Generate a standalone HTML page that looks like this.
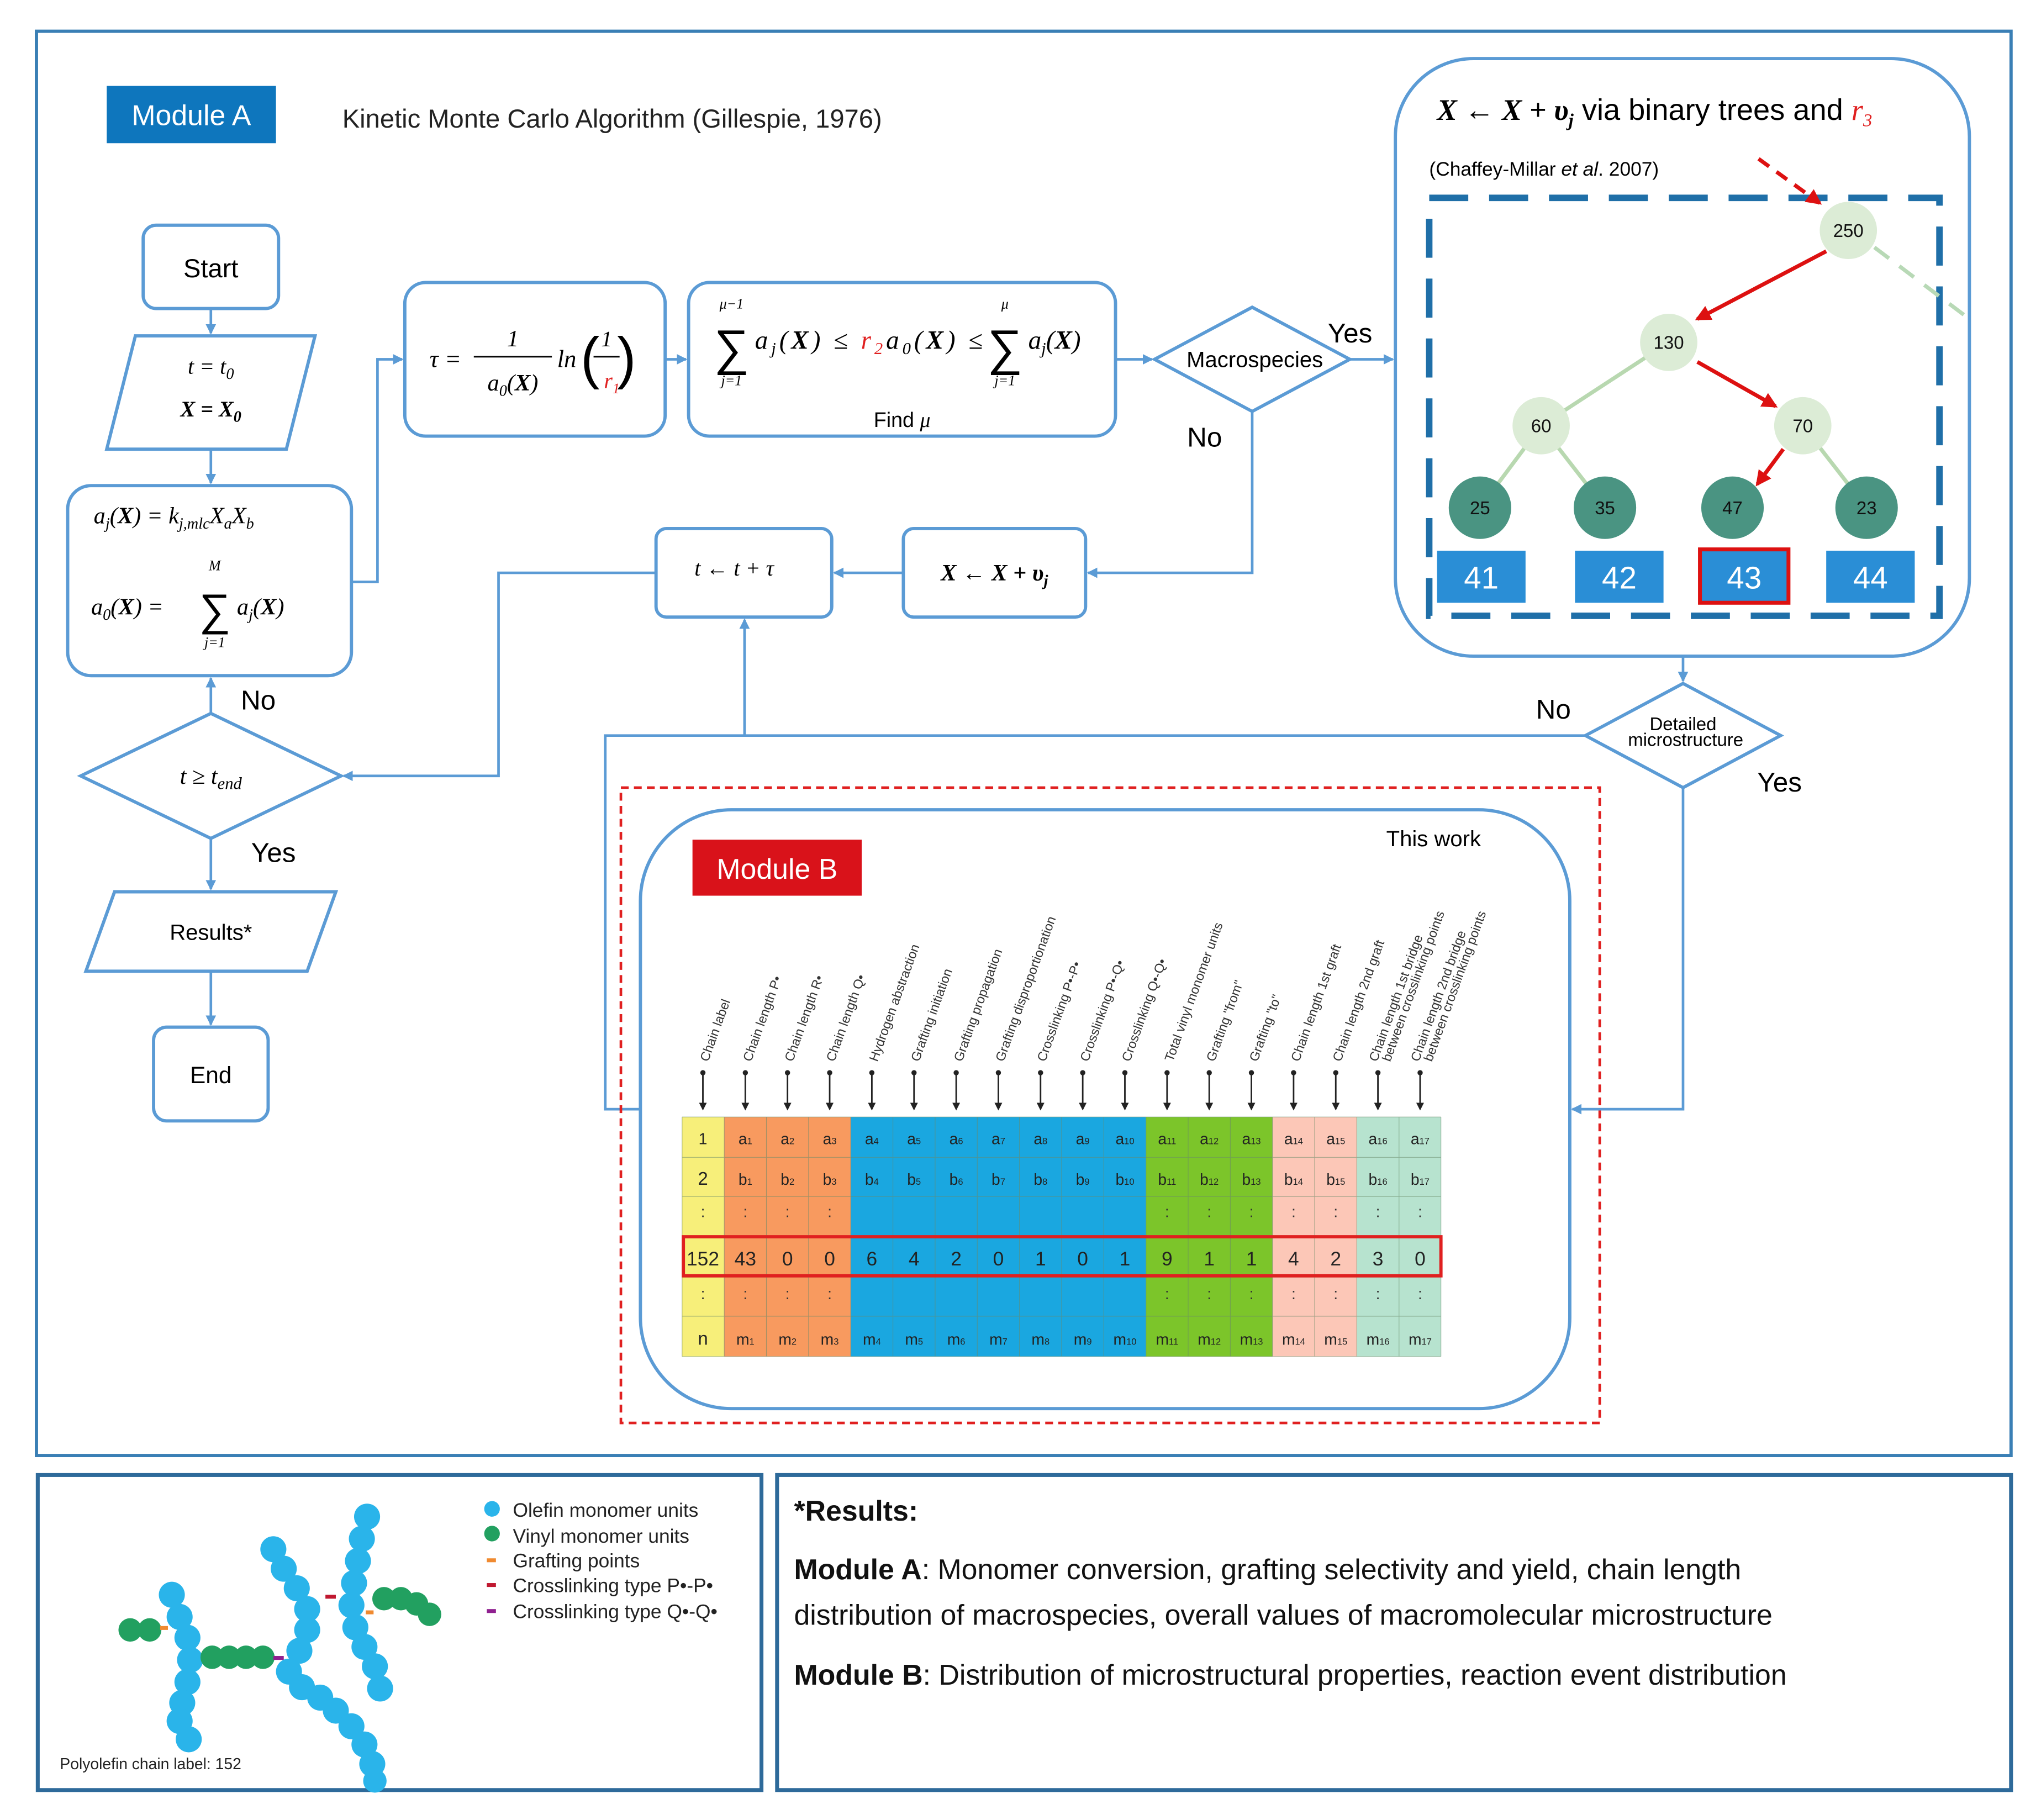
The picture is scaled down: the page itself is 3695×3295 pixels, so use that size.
<!DOCTYPE html>
<html><head><meta charset="utf-8"><style>
html,body{margin:0;padding:0;background:#fff}
svg{display:block}
text{font-family:"Liberation Sans",sans-serif}
.m{font-family:"Liberation Serif",serif;font-style:italic}
.b{fill:#fff;stroke:#5b9bd5;stroke-width:2.5}
.c{fill:none;stroke:#5b9bd5;stroke-width:2}
.t{font-size:12px;text-anchor:middle}
.h{font-size:10px;fill:#333}
</style></head><body>
<svg width="3695" height="3295" viewBox="0 0 1568 1398" preserveAspectRatio="none">
<defs>
<marker id="a" markerWidth="8" markerHeight="8" refX="7" refY="4" orient="auto" markerUnits="userSpaceOnUse"><path d="M0,0 L8,4 L0,8z" fill="#5b9bd5"/></marker>
<marker id="r" markerWidth="12" markerHeight="12" refX="10" refY="6" orient="auto" markerUnits="userSpaceOnUse"><path d="M0,0 L12,6 L0,12z" fill="#d11"/></marker>
<marker id="k" markerWidth="6" markerHeight="6" refX="5" refY="3" orient="auto" markerUnits="userSpaceOnUse"><path d="M0,0 L6,3 L0,6z" fill="#222"/></marker>
</defs>
<rect x="0" y="0" width="1568" height="1398" fill="#fff"/>
<!-- frames -->
<rect x="28" y="24" width="1517" height="1094" fill="none" stroke="#3a7fb5" stroke-width="2.5"/>
<rect x="29" y="1133" width="556" height="242" fill="none" stroke="#2e6a9a" stroke-width="3"/>
<rect x="597" y="1133" width="948" height="242" fill="none" stroke="#2e6a9a" stroke-width="3"/>

<rect x="82" y="66" width="130" height="44" fill="#0e76bd"/>
<text x="147" y="96" font-size="22" fill="#fff" text-anchor="middle">Module A</text>
<text x="263" y="98" font-size="20" fill="#222">Kinetic Monte Carlo Algorithm (Gillespie, 1976)</text>

<!-- left flow -->
<rect class="b" x="110" y="173" width="104" height="64" rx="10"/>
<text x="162" y="213" font-size="20" text-anchor="middle">Start</text>
<polygon class="b" points="104,258 242,258 220,345 82,345"/>
<text class="m" x="162" y="287" font-size="17" text-anchor="middle">t = t<tspan font-size="12" dy="4">0</tspan></text>
<text class="m" x="162" y="320" font-size="17" text-anchor="middle" font-weight="bold">X = X<tspan font-size="12" dy="4">0</tspan></text>
<rect class="b" x="52" y="373" width="218" height="146" rx="18"/>
<text class="m" x="72" y="402" font-size="18">a<tspan font-size="12" dy="4">j</tspan><tspan dy="-4">(</tspan><tspan font-weight="bold">X</tspan>) = k<tspan font-size="12" dy="4">j,mlc</tspan><tspan dy="-4">X</tspan><tspan font-size="12" dy="4">a</tspan><tspan dy="-4">X</tspan><tspan font-size="12" dy="4">b</tspan></text>
<text class="m" x="70" y="472" font-size="18">a<tspan font-size="12" dy="4">0</tspan><tspan dy="-4">(</tspan><tspan font-weight="bold">X</tspan>) =</text>
<text x="165" y="480" font-size="34" text-anchor="middle">∑</text>
<text class="m" x="165" y="438" font-size="11" text-anchor="middle">M</text>
<text class="m" x="165" y="497" font-size="11" text-anchor="middle">j=1</text>
<text class="m" x="182" y="472" font-size="18">a<tspan font-size="12" dy="4">j</tspan><tspan dy="-4">(</tspan><tspan font-weight="bold">X</tspan>)</text>
<polygon class="b" points="62,596 162,548 262,596 162,644"/>
<text class="m" x="162" y="602" font-size="18" text-anchor="middle">t ≥ t<tspan font-size="13" dy="4">end</tspan></text>
<polygon class="b" points="88,685 258,685 236,746 66,746"/>
<text x="162" y="722" font-size="17" text-anchor="middle">Results*</text>
<rect class="b" x="118" y="789" width="88" height="72" rx="10"/>
<text x="162" y="832" font-size="18" text-anchor="middle">End</text>

<path class="c" d="M162,237 V256" marker-end="url(#a)"/>
<path class="c" d="M162,345 V371" marker-end="url(#a)"/>
<path class="c" d="M162,548 V521" marker-end="url(#a)"/>
<path class="c" d="M162,644 V683" marker-end="url(#a)"/>
<path class="c" d="M162,746 V787" marker-end="url(#a)"/>
<text x="185" y="545" font-size="21">No</text>
<text x="193" y="662" font-size="21">Yes</text>

<!-- top flow -->
<rect class="b" x="311" y="217" width="200" height="118" rx="16"/>
<text class="m" x="330" y="282" font-size="19">τ =</text>
<text class="m" x="394" y="266" font-size="18" text-anchor="middle">1</text>
<line x1="364" y1="274" x2="424" y2="274" stroke="#000" stroke-width="1.2"/>
<text class="m" x="394" y="300" font-size="18" text-anchor="middle">a<tspan font-size="12" dy="4">0</tspan><tspan dy="-4">(</tspan><tspan font-weight="bold">X</tspan>)</text>
<text class="m" x="428" y="282" font-size="19">ln</text>
<text x="446" y="290" font-size="44" font-weight="100">(</text>
<text class="m" x="466" y="266" font-size="17" text-anchor="middle">1</text>
<line x1="456" y1="274" x2="476" y2="274" stroke="#000" stroke-width="1.2"/>
<text class="m" x="464" y="298" font-size="17" fill="#e02020">r<tspan font-size="11" dy="4">1</tspan></text>
<text x="474" y="290" font-size="44" font-weight="100">)</text>
<rect class="b" x="529" y="217" width="328" height="118" rx="16"/>
<text x="562" y="280" font-size="38" text-anchor="middle">∑</text>
<text class="m" x="562" y="237" font-size="11" text-anchor="middle">μ−1</text>
<text class="m" x="562" y="296" font-size="11" text-anchor="middle">j=1</text>
<text class="m" x="580" y="268" font-size="20" textLength="175" lengthAdjust="spacing">a<tspan font-size="13" dy="4">j</tspan><tspan dy="-4">(</tspan><tspan font-weight="bold">X</tspan>) ≤ <tspan fill="#e02020">r</tspan><tspan font-size="13" dy="4" fill="#e02020">2</tspan><tspan dy="-4">a</tspan><tspan font-size="13" dy="4">0</tspan><tspan dy="-4">(</tspan><tspan font-weight="bold">X</tspan>) ≤</text>
<text x="772" y="280" font-size="38" text-anchor="middle">∑</text>
<text class="m" x="772" y="237" font-size="11" text-anchor="middle">μ</text>
<text class="m" x="772" y="296" font-size="11" text-anchor="middle">j=1</text>
<text class="m" x="790" y="268" font-size="20">a<tspan font-size="13" dy="4">j</tspan><tspan dy="-4">(</tspan><tspan font-weight="bold">X</tspan>)</text>
<text x="693" y="328" font-size="16" text-anchor="middle">Find <tspan class="m">μ</tspan></text>
<polygon class="b" points="887,276 962,236 1037,276 962,316"/>
<text x="964" y="282" font-size="17" text-anchor="middle">Macrospecies</text>
<text x="1020" y="263" font-size="21">Yes</text>
<text x="912" y="343" font-size="21">No</text>
<rect class="b" x="694" y="406" width="140" height="68" rx="8"/>
<text class="m" x="764" y="446" font-size="18" font-weight="bold" text-anchor="middle">X ← X + υ<tspan font-size="12" dy="4">j</tspan></text>
<rect class="b" x="504" y="406" width="135" height="68" rx="8"/>
<text class="m" x="564" y="442" font-size="17" text-anchor="middle">t ← t + τ</text>

<path class="c" d="M270,447 H290 V276 H309" marker-end="url(#a)"/>
<path class="c" d="M511,276 H527" marker-end="url(#a)"/>
<path class="c" d="M857,276 H885" marker-end="url(#a)"/>
<path class="c" d="M1037,276 H1070" marker-end="url(#a)"/>
<path class="c" d="M962,316 V440 H836" marker-end="url(#a)"/>
<path class="c" d="M694,440 H641" marker-end="url(#a)"/>
<path class="c" d="M504,440 H383 V596 H264" marker-end="url(#a)"/>

<!-- right tree box -->
<rect class="b" x="1072" y="45" width="441" height="459" rx="60"/>
<text class="m" x="1104" y="92" font-size="23" font-weight="bold">X ← X + υ<tspan font-size="14" dy="5">j</tspan><tspan dy="-5" font-style="normal" font-weight="normal" font-family="Liberation Sans"> via binary trees and </tspan><tspan fill="#e02020" font-weight="normal">r</tspan><tspan fill="#e02020" font-size="14" dy="5" font-weight="normal">3</tspan></text>
<text x="1098" y="135" font-size="15">(Chaffey-Millar <tspan font-style="italic">et al</tspan>. 2007)</text>
<rect x="1098" y="152" width="392" height="321" fill="none" stroke="#1f6fa8" stroke-width="5" stroke-dasharray="30 16"/>
<line x1="1440" y1="190" x2="1513" y2="245" stroke="#b8d9b6" stroke-width="3" stroke-dasharray="14 10"/>
<g stroke="#b8d8b0" stroke-width="3">
<line x1="1282" y1="263" x2="1184" y2="327"/><line x1="1184" y1="327" x2="1137" y2="390"/><line x1="1184" y1="327" x2="1233" y2="390"/><line x1="1385" y1="327" x2="1434" y2="390"/>
</g>
<g stroke="#d11" stroke-width="3" fill="none">
<line x1="1351" y1="122" x2="1398" y2="156" stroke-dasharray="10 7" marker-end="url(#r)"/>
<line x1="1403" y1="193" x2="1304" y2="245" marker-end="url(#r)"/>
<line x1="1304" y1="278" x2="1364" y2="312" marker-end="url(#r)"/>
<line x1="1370" y1="345" x2="1350" y2="372" marker-end="url(#r)"/>
</g>
<g fill="#dcecd6"><circle cx="1420" cy="177" r="22"/><circle cx="1282" cy="263" r="22"/><circle cx="1184" cy="327" r="22"/><circle cx="1385" cy="327" r="22"/></g>
<g fill="#4a9482"><circle cx="1137" cy="390" r="24"/><circle cx="1233" cy="390" r="24"/><circle cx="1331" cy="390" r="24"/><circle cx="1434" cy="390" r="24"/></g>
<g font-size="14" text-anchor="middle" fill="#111">
<text x="1420" y="182">250</text><text x="1282" y="268">130</text><text x="1184" y="332">60</text><text x="1385" y="332">70</text>
<text x="1137" y="395">25</text><text x="1233" y="395">35</text><text x="1331" y="395">47</text><text x="1434" y="395">23</text>
</g>
<g fill="#2a8ed6"><rect x="1104" y="423" width="68" height="40"/><rect x="1210" y="423" width="68" height="40"/><rect x="1306" y="422" width="68" height="41" stroke="#d11" stroke-width="3"/><rect x="1403" y="423" width="68" height="40"/></g>
<g font-size="24" fill="#fff" text-anchor="middle"><text x="1138" y="452">41</text><text x="1244" y="452">42</text><text x="1340" y="452">43</text><text x="1437" y="452">44</text></g>

<polygon class="b" points="1218,565 1293,525 1368,565 1293,605"/>
<text x="1293" y="561" font-size="14" text-anchor="middle">Detailed</text>
<text x="1295" y="573" font-size="14" text-anchor="middle">microstructure</text>
<text x="1180" y="552" font-size="21">No</text>
<text x="1350" y="608" font-size="21">Yes</text>
<path class="c" d="M1293,504 V523" marker-end="url(#a)"/>
<path class="c" d="M1218,565 H465 V852 H492"/>
<path class="c" d="M572,565 V476" marker-end="url(#a)"/>
<path class="c" d="M1293,605 V852 H1208" marker-end="url(#a)"/>

<!-- Module B -->
<rect x="477" y="605" width="752" height="488" fill="none" stroke="#e02020" stroke-width="2" stroke-dasharray="6 4"/>
<rect class="b" x="492" y="622" width="714" height="460" rx="70"/>
<rect x="532" y="645" width="130" height="43" fill="#d9121a"/>
<text x="597" y="675" font-size="22" fill="#fff" text-anchor="middle">Module B</text>
<text x="1065" y="650" font-size="17">This work</text>

<!-- table -->
<g>
<rect x="524" y="858" width="32.4" height="184" fill="#f7ef7a"/>
<rect x="556.4" y="858" width="97.2" height="184" fill="#f89a5f"/>
<rect x="653.6" y="858" width="226.8" height="184" fill="#1aa7e0"/>
<rect x="880.4" y="858" width="97.2" height="184" fill="#7cc52a"/>
<rect x="977.6" y="858" width="64.8" height="184" fill="#fcc7b7"/>
<rect x="1042.4" y="858" width="64.6" height="184" fill="#b7e3cf"/>
<g stroke="#6a8a6a" stroke-width="0.5" opacity="0.6">
<path d="M524,858H1107M524,889H1107M524,919H1107M524,950H1107M524,981H1107M524,1011H1107M524,1042H1107"/>
<path d="M524,858V1042M556.4,858V1042M588.8,858V1042M621.2,858V1042M653.6,858V1042M686,858V1042M718.4,858V1042M750.8,858V1042M783.2,858V1042M815.6,858V1042M848,858V1042M880.4,858V1042M912.8,858V1042M945.2,858V1042M977.6,858V1042M1010,858V1042M1042.4,858V1042M1074.8,858V1042M1107,858V1042"/>
</g>
<rect x="525" y="950" width="582" height="30" fill="none" stroke="#e02020" stroke-width="2.5"/>
<g class="t" font-size="13" fill="#222">
<text x="540" y="879" class="t" font-size="14">1</text><text x="572.6" y="879">a<tspan font-size="7">1</tspan></text><text x="605" y="879">a<tspan font-size="7">2</tspan></text><text x="637.4" y="879">a<tspan font-size="7">3</tspan></text><text x="669.8" y="879">a<tspan font-size="7">4</tspan></text><text x="702.2" y="879">a<tspan font-size="7">5</tspan></text><text x="734.6" y="879">a<tspan font-size="7">6</tspan></text><text x="767" y="879">a<tspan font-size="7">7</tspan></text><text x="799.4" y="879">a<tspan font-size="7">8</tspan></text><text x="831.8" y="879">a<tspan font-size="7">9</tspan></text><text x="864.2" y="879">a<tspan font-size="7">10</tspan></text><text x="896.6" y="879">a<tspan font-size="7">11</tspan></text><text x="929" y="879">a<tspan font-size="7">12</tspan></text><text x="961.4" y="879">a<tspan font-size="7">13</tspan></text><text x="993.8" y="879">a<tspan font-size="7">14</tspan></text><text x="1026.2" y="879">a<tspan font-size="7">15</tspan></text><text x="1058.6" y="879">a<tspan font-size="7">16</tspan></text><text x="1091" y="879">a<tspan font-size="7">17</tspan></text>
<text x="540" y="910" font-size="14">2</text><text x="572.6" y="910">b<tspan font-size="7">1</tspan></text><text x="605" y="910">b<tspan font-size="7">2</tspan></text><text x="637.4" y="910">b<tspan font-size="7">3</tspan></text><text x="669.8" y="910">b<tspan font-size="7">4</tspan></text><text x="702.2" y="910">b<tspan font-size="7">5</tspan></text><text x="734.6" y="910">b<tspan font-size="7">6</tspan></text><text x="767" y="910">b<tspan font-size="7">7</tspan></text><text x="799.4" y="910">b<tspan font-size="7">8</tspan></text><text x="831.8" y="910">b<tspan font-size="7">9</tspan></text><text x="864.2" y="910">b<tspan font-size="7">10</tspan></text><text x="896.6" y="910">b<tspan font-size="7">11</tspan></text><text x="929" y="910">b<tspan font-size="7">12</tspan></text><text x="961.4" y="910">b<tspan font-size="7">13</tspan></text><text x="993.8" y="910">b<tspan font-size="7">14</tspan></text><text x="1026.2" y="910">b<tspan font-size="7">15</tspan></text><text x="1058.6" y="910">b<tspan font-size="7">16</tspan></text><text x="1091" y="910">b<tspan font-size="7">17</tspan></text>
<text x="540" y="972" font-size="15">152</text><text x="572.6" y="972" font-size="15">43</text><text x="605" y="972" font-size="15">0</text><text x="637.4" y="972" font-size="15">0</text><text x="669.8" y="972" font-size="15">6</text><text x="702.2" y="972" font-size="15">4</text><text x="734.6" y="972" font-size="15">2</text><text x="767" y="972" font-size="15">0</text><text x="799.4" y="972" font-size="15">1</text><text x="831.8" y="972" font-size="15">0</text><text x="864.2" y="972" font-size="15">1</text><text x="896.6" y="972" font-size="15">9</text><text x="929" y="972" font-size="15">1</text><text x="961.4" y="972" font-size="15">1</text><text x="993.8" y="972" font-size="15">4</text><text x="1026.2" y="972" font-size="15">2</text><text x="1058.6" y="972" font-size="15">3</text><text x="1091" y="972" font-size="15">0</text>
<text x="540" y="1033" font-size="14">n</text><text x="572.6" y="1033">m<tspan font-size="7">1</tspan></text><text x="605" y="1033">m<tspan font-size="7">2</tspan></text><text x="637.4" y="1033">m<tspan font-size="7">3</tspan></text><text x="669.8" y="1033">m<tspan font-size="7">4</tspan></text><text x="702.2" y="1033">m<tspan font-size="7">5</tspan></text><text x="734.6" y="1033">m<tspan font-size="7">6</tspan></text><text x="767" y="1033">m<tspan font-size="7">7</tspan></text><text x="799.4" y="1033">m<tspan font-size="7">8</tspan></text><text x="831.8" y="1033">m<tspan font-size="7">9</tspan></text><text x="864.2" y="1033">m<tspan font-size="7">10</tspan></text><text x="896.6" y="1033">m<tspan font-size="7">11</tspan></text><text x="929" y="1033">m<tspan font-size="7">12</tspan></text><text x="961.4" y="1033">m<tspan font-size="7">13</tspan></text><text x="993.8" y="1033">m<tspan font-size="7">14</tspan></text><text x="1026.2" y="1033">m<tspan font-size="7">15</tspan></text><text x="1058.6" y="1033">m<tspan font-size="7">16</tspan></text><text x="1091" y="1033">m<tspan font-size="7">17</tspan></text>
</g>
<g fill="#333" font-size="12" text-anchor="middle">
<text x="540" y="935">:</text><text x="572.6" y="935">:</text><text x="605" y="935">:</text><text x="637.4" y="935">:</text><text x="896.6" y="935">:</text><text x="929" y="935">:</text><text x="961.4" y="935">:</text><text x="993.8" y="935">:</text><text x="1026.2" y="935">:</text><text x="1058.6" y="935">:</text><text x="1091" y="935">:</text>
<text x="540" y="998">:</text><text x="572.6" y="998">:</text><text x="605" y="998">:</text><text x="637.4" y="998">:</text><text x="896.6" y="998">:</text><text x="929" y="998">:</text><text x="961.4" y="998">:</text><text x="993.8" y="998">:</text><text x="1026.2" y="998">:</text><text x="1058.6" y="998">:</text><text x="1091" y="998">:</text>
</g>
</g>
<!-- column arrows -->
<g stroke="#222" stroke-width="1.2">
<line x1="540" y1="824" x2="540" y2="852" marker-end="url(#k)"/><line x1="572.6" y1="824" x2="572.6" y2="852" marker-end="url(#k)"/><line x1="605" y1="824" x2="605" y2="852" marker-end="url(#k)"/><line x1="637.4" y1="824" x2="637.4" y2="852" marker-end="url(#k)"/><line x1="669.8" y1="824" x2="669.8" y2="852" marker-end="url(#k)"/><line x1="702.2" y1="824" x2="702.2" y2="852" marker-end="url(#k)"/><line x1="734.6" y1="824" x2="734.6" y2="852" marker-end="url(#k)"/><line x1="767" y1="824" x2="767" y2="852" marker-end="url(#k)"/><line x1="799.4" y1="824" x2="799.4" y2="852" marker-end="url(#k)"/><line x1="831.8" y1="824" x2="831.8" y2="852" marker-end="url(#k)"/><line x1="864.2" y1="824" x2="864.2" y2="852" marker-end="url(#k)"/><line x1="896.6" y1="824" x2="896.6" y2="852" marker-end="url(#k)"/><line x1="929" y1="824" x2="929" y2="852" marker-end="url(#k)"/><line x1="961.4" y1="824" x2="961.4" y2="852" marker-end="url(#k)"/><line x1="993.8" y1="824" x2="993.8" y2="852" marker-end="url(#k)"/><line x1="1026.2" y1="824" x2="1026.2" y2="852" marker-end="url(#k)"/><line x1="1058.6" y1="824" x2="1058.6" y2="852" marker-end="url(#k)"/><line x1="1091" y1="824" x2="1091" y2="852" marker-end="url(#k)"/>
</g>
<g fill="#222"><circle cx="540" cy="824" r="2"/><circle cx="572.6" cy="824" r="2"/><circle cx="605" cy="824" r="2"/><circle cx="637.4" cy="824" r="2"/><circle cx="669.8" cy="824" r="2"/><circle cx="702.2" cy="824" r="2"/><circle cx="734.6" cy="824" r="2"/><circle cx="767" cy="824" r="2"/><circle cx="799.4" cy="824" r="2"/><circle cx="831.8" cy="824" r="2"/><circle cx="864.2" cy="824" r="2"/><circle cx="896.6" cy="824" r="2"/><circle cx="929" cy="824" r="2"/><circle cx="961.4" cy="824" r="2"/><circle cx="993.8" cy="824" r="2"/><circle cx="1026.2" cy="824" r="2"/><circle cx="1058.6" cy="824" r="2"/><circle cx="1091" cy="824" r="2"/></g>
<g class="h">
<text transform="translate(544,816) rotate(-70)">Chain label</text>
<text transform="translate(577,816) rotate(-70)">Chain length P•</text>
<text transform="translate(609,816) rotate(-70)">Chain length R•</text>
<text transform="translate(641,816) rotate(-70)">Chain length Q•</text>
<text transform="translate(674,816) rotate(-70)">Hydrogen abstraction</text>
<text transform="translate(706,816) rotate(-70)">Grafting initiation</text>
<text transform="translate(739,816) rotate(-70)">Grafting propagation</text>
<text transform="translate(771,816) rotate(-70)">Grafting disproportionation</text>
<text transform="translate(803,816) rotate(-70)">Crosslinking P•-P•</text>
<text transform="translate(836,816) rotate(-70)">Crosslinking P•-Q•</text>
<text transform="translate(868,816) rotate(-70)">Crosslinking Q•-Q•</text>
<text transform="translate(901,816) rotate(-70)">Total vinyl monomer units</text>
<text transform="translate(933,816) rotate(-70)">Grafting "from"</text>
<text transform="translate(966,816) rotate(-70)">Grafting "to"</text>
<text transform="translate(998,816) rotate(-70)">Chain length 1st graft</text>
<text transform="translate(1030,816) rotate(-70)">Chain length 2nd graft</text>
<text transform="translate(1058,816) rotate(-70)">Chain length 1st bridge</text>
<text transform="translate(1068,816) rotate(-70)">between crosslinking points</text>
<text transform="translate(1090,816) rotate(-70)">Chain length 2nd bridge</text>
<text transform="translate(1100,816) rotate(-70)">between crosslinking points</text>
</g>

<!-- bottom left legend + polymer -->
<g fill="#2ab4ea">
<circle cx="282" cy="1165" r="10"/><circle cx="278" cy="1182" r="10"/><circle cx="275" cy="1199" r="10"/><circle cx="272" cy="1216" r="10"/><circle cx="270" cy="1233" r="10"/><circle cx="273" cy="1250" r="10"/><circle cx="280" cy="1265" r="10"/><circle cx="288" cy="1280" r="10"/><circle cx="292" cy="1297" r="10"/>
<circle cx="210" cy="1190" r="10"/><circle cx="218" cy="1205" r="10"/><circle cx="228" cy="1220" r="10"/><circle cx="236" cy="1236" r="10"/><circle cx="236" cy="1252" r="10"/><circle cx="230" cy="1268" r="10"/><circle cx="222" cy="1284" r="10"/><circle cx="232" cy="1296" r="10"/><circle cx="246" cy="1304" r="10"/><circle cx="258" cy="1314" r="10"/><circle cx="270" cy="1326" r="10"/><circle cx="280" cy="1340" r="10"/><circle cx="286" cy="1355" r="10"/><circle cx="288" cy="1368" r="9"/>
<circle cx="132" cy="1225" r="10"/><circle cx="138" cy="1242" r="10"/><circle cx="144" cy="1258" r="10"/><circle cx="146" cy="1275" r="10"/><circle cx="144" cy="1292" r="10"/><circle cx="140" cy="1308" r="10"/><circle cx="138" cy="1322" r="10"/><circle cx="145" cy="1336" r="10"/>
</g>
<g fill="#22a060">
<circle cx="100" cy="1252" r="9"/><circle cx="115" cy="1252" r="9"/>
<circle cx="163" cy="1273" r="9"/><circle cx="176" cy="1273" r="9"/><circle cx="189" cy="1273" r="9"/><circle cx="202" cy="1273" r="9"/>
<circle cx="295" cy="1228" r="9"/><circle cx="308" cy="1228" r="9"/><circle cx="320" cy="1232" r="9"/><circle cx="330" cy="1240" r="9"/>
</g>
<rect x="123" y="1249" width="6" height="3" fill="#f08a30"/>
<rect x="281" y="1237" width="6" height="3" fill="#f08a30"/>
<rect x="250" y="1225" width="8" height="3" fill="#c01830"/>
<rect x="210" y="1272" width="8" height="3" fill="#902090"/>
<circle cx="378" cy="1159" r="6" fill="#2ab4ea"/>
<circle cx="378" cy="1178" r="6" fill="#22a060"/>
<rect x="374" y="1197" width="7" height="3" fill="#f08a30"/>
<rect x="374" y="1216" width="7" height="3" fill="#c01830"/>
<rect x="374" y="1236" width="7" height="3" fill="#902090"/>
<g font-size="15" fill="#222">
<text x="394" y="1165">Olefin monomer units</text>
<text x="394" y="1185">Vinyl monomer units</text>
<text x="394" y="1204">Grafting points</text>
<text x="394" y="1223">Crosslinking type P•-P•</text>
<text x="394" y="1243">Crosslinking type Q•-Q•</text>
</g>
<text x="46" y="1359" font-size="12" fill="#222">Polyolefin chain label: 152</text>

<!-- bottom right -->
<g font-size="22" fill="#111">
<text x="610" y="1168" font-weight="bold">*Results:</text>
<text x="610" y="1213"><tspan font-weight="bold">Module A</tspan>: Monomer conversion, grafting selectivity and yield, chain length</text>
<text x="610" y="1248">distribution of macrospecies, overall values of macromolecular microstructure</text>
<text x="610" y="1294"><tspan font-weight="bold">Module B</tspan>: Distribution of microstructural properties, reaction event distribution</text>
</g>
</svg>
</body></html>
